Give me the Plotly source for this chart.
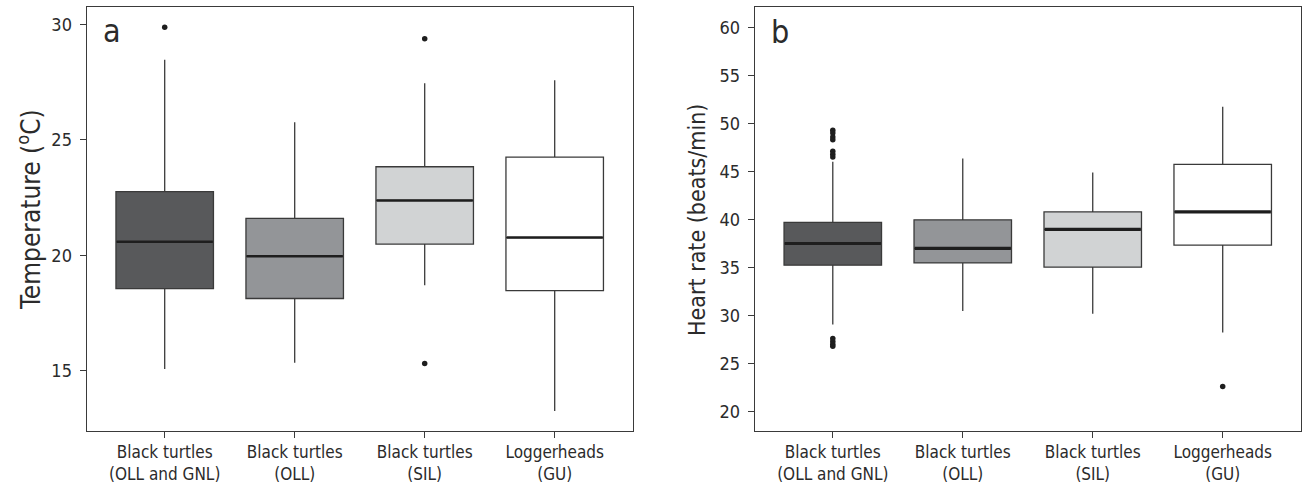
import plotly.graph_objects as go

W, H = 1302, 484

categories = ["Black turtles<br>(OLL and GNL)", "Black turtles<br>(OLL)",
              "Black turtles<br>(SIL)", "Loggerheads<br>(GU)"]
fills = ["#58595b", "#939598", "#d1d3d4", "#ffffff"]

# Panel a: temperature (deg C)
temp_q1 = [18.56, 18.13, 20.49, 18.47]
temp_median = [20.59, 19.96, 22.38, 20.77]
temp_q3 = [22.76, 21.60, 23.84, 24.26]
temp_lower = [15.07, 15.34, 18.70, 13.25]
temp_upper = [28.48, 25.77, 27.46, 27.59]
temp_outliers = [[29.89], [], [29.39, 15.31], []]

# Panel b: heart rate (beats/min)
hr_q1 = [35.24, 35.48, 35.03, 37.32]
hr_median = [37.50, 36.98, 38.96, 40.80]
hr_q3 = [39.70, 39.96, 40.80, 45.73]
hr_lower = [29.06, 30.48, 30.17, 28.23]
hr_upper = [46.00, 46.35, 44.90, 51.73]
hr_outliers = [[49.3, 49.0, 48.6, 48.3, 47.1, 46.8, 46.5, 27.6, 27.3, 27.0, 26.8],
               [], [], [22.6]]

FONT = "DejaVu Sans Condensed, Liberation Sans Narrow, sans-serif"
TXT = "#2b2b2b"
LINE = "#3a3a3a"
BOXW = 0.75

fig = go.Figure()


def add_panel(xa, ya, q1, med, q3, lo, hi, outl, medw):
    for i in range(len(categories)):
        fig.add_trace(go.Box(
            x=[i], q1=[q1[i]], median=[med[i]], q3=[q3[i]],
            lowerfence=[lo[i]], upperfence=[hi[i]],
            width=BOXW, whiskerwidth=0, boxpoints=False,
            fillcolor=fills[i], line=dict(color=LINE, width=1.3),
            xaxis=xa, yaxis=ya, showlegend=False, hoverinfo="skip"))
        fig.add_trace(go.Scatter(
            x=[i - BOXW / 2 + 0.005, i + BOXW / 2 - 0.005], y=[med[i], med[i]],
            mode="lines", line=dict(color="#1e1e1e", width=medw),
            xaxis=xa, yaxis=ya, showlegend=False, hoverinfo="skip"))
        if outl[i]:
            fig.add_trace(go.Scatter(
                x=[i] * len(outl[i]), y=outl[i], mode="markers",
                marker=dict(color="#1e1e1e", size=5.5),
                xaxis=xa, yaxis=ya, showlegend=False, hoverinfo="skip"))


add_panel("x", "y", temp_q1, temp_median, temp_q3, temp_lower, temp_upper,
          temp_outliers, 2.6)
add_panel("x2", "y2", hr_q1, hr_median, hr_q3, hr_lower, hr_upper,
          hr_outliers, 3.2)

ytop, ybot = 7.3, 430.7
ydom = [1 - ybot / H, 1 - ytop / H]

axis_common = dict(showline=True, mirror=True, linecolor=LINE, linewidth=1.3,
                   ticks="outside", ticklen=6, tickcolor=LINE, tickwidth=1.2,
                   showgrid=False, zeroline=False, automargin=False)
xfont = dict(family=FONT, size=17, color=TXT)
yfont = dict(family=FONT, size=18, color=TXT)

fig.update_layout(
    width=W, height=H,
    margin=dict(l=0, r=0, t=0, b=0),
    paper_bgcolor="white", plot_bgcolor="white",
    font=dict(family=FONT, color=TXT),
    xaxis=dict(domain=[86.7 / W, 632.7 / W], range=[-0.6, 3.6],
               tickvals=list(range(len(categories))), ticktext=categories,
               anchor="y", tickfont=xfont, **axis_common),
    yaxis=dict(domain=ydom, range=[12.4, 30.75], tickvals=[15, 20, 25, 30],
               anchor="x", tickfont=yfont, ticklabelstandoff=4, **axis_common),
    xaxis2=dict(domain=[754.8 / W, 1300.7 / W], range=[-0.6, 3.6],
                tickvals=list(range(len(categories))), ticktext=categories,
                anchor="y2", tickfont=xfont, **axis_common),
    yaxis2=dict(domain=ydom, range=[18.0, 62.1],
                tickvals=[20, 25, 30, 35, 40, 45, 50, 55, 60],
                anchor="x2", tickfont=yfont, ticklabelstandoff=4, **axis_common),
    annotations=[
        dict(text="Temperature (<sup>o</sup>C)", textangle=-90, xref="paper", yref="paper",
             x=29 / W, y=1 - 210 / H, xanchor="center", yanchor="middle",
             showarrow=False, font=dict(family=FONT, size=26, color=TXT)),
        dict(text="Heart rate (beats/min)", textangle=-90, xref="paper", yref="paper",
             x=697 / W, y=1 - 220 / H, xanchor="center", yanchor="middle",
             showarrow=False, font=dict(family=FONT, size=23, color=TXT)),
        dict(text="a", xref="paper", yref="paper", x=101 / W, y=1 - 10 / H,
             xanchor="left", yanchor="top", showarrow=False,
             font=dict(family=FONT, size=32, color=TXT)),
        dict(text="b", xref="paper", yref="paper", x=769 / W, y=1 - 11 / H,
             xanchor="left", yanchor="top", showarrow=False,
             font=dict(family=FONT, size=32, color=TXT)),
    ],
)

fig.write_html("out.html", config={"displayModeBar": False},
               post_script="document.body.style.margin='0';document.body.style.overflow='hidden';")
